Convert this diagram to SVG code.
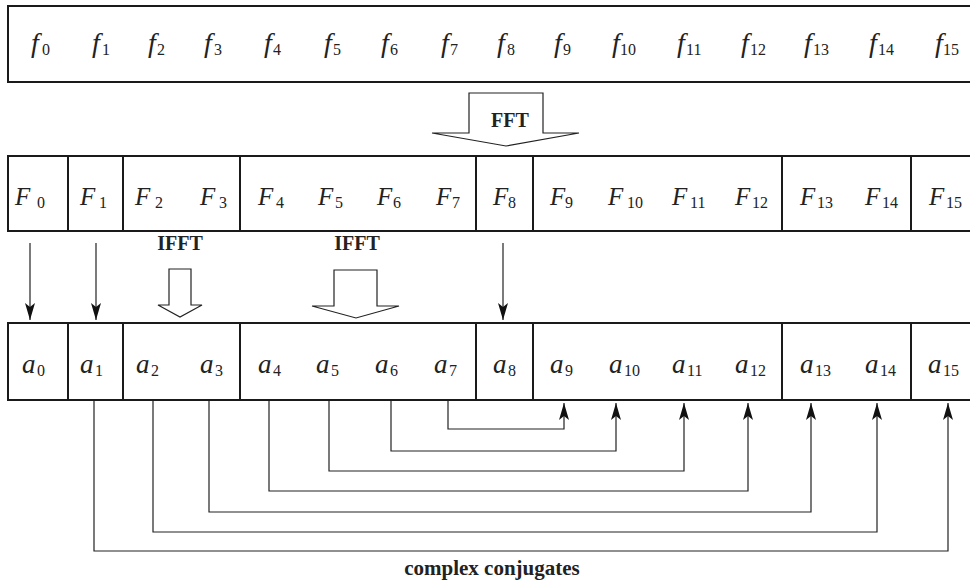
<svg xmlns="http://www.w3.org/2000/svg" width="970" height="585" viewBox="0 0 970 585">
<defs>
<marker id="ah" markerUnits="userSpaceOnUse" markerWidth="20" markerHeight="12" viewBox="-18 -6 20 12" refX="0" refY="0" orient="auto">
<path d="M0,0 L-17,-5 L-13,0 L-17,5 Z" fill="#111"/>
</marker>
</defs>
<style>
.box{fill:none;stroke:#1a1a1a;stroke-width:2}
.div{stroke:#1a1a1a;stroke-width:2}
.lbl{font-family:"Liberation Serif","Times New Roman",serif;fill:#222}
.fl{font-size:28px}
.Fl{font-size:25px}
.al{font-size:27px}
.it{font-style:italic}
.sub{font-size:16px;font-style:normal}
.conn{fill:none;stroke:#222;stroke-width:1.2}
.bar{fill:#fff;stroke:#222;stroke-width:1.2}
.bold{font-family:"Liberation Serif","Times New Roman",serif;font-weight:bold;font-size:20px;fill:#222}
</style>
<rect width="970" height="585" fill="#fff"/>

<g id="row-f">
<rect class="box" x="8" y="6" width="970" height="76"/>
<text class="lbl fl" y="52">
<tspan class="it" x="31">f</tspan><tspan class="sub" x="42" dy="3">0</tspan>
<tspan class="it" x="92" dy="-3">f</tspan><tspan class="sub" x="102" dy="3">1</tspan>
<tspan class="it" x="148" dy="-3">f</tspan><tspan class="sub" x="157" dy="3">2</tspan>
<tspan class="it" x="204" dy="-3">f</tspan><tspan class="sub" x="214" dy="3">3</tspan>
<tspan class="it" x="264" dy="-3">f</tspan><tspan class="sub" x="273" dy="3">4</tspan>
<tspan class="it" x="324" dy="-3">f</tspan><tspan class="sub" x="333" dy="3">5</tspan>
<tspan class="it" x="381" dy="-3">f</tspan><tspan class="sub" x="390" dy="3">6</tspan>
<tspan class="it" x="441" dy="-3">f</tspan><tspan class="sub" x="450" dy="3">7</tspan>
<tspan class="it" x="497" dy="-3">f</tspan><tspan class="sub" x="507" dy="3">8</tspan>
<tspan class="it" x="554" dy="-3">f</tspan><tspan class="sub" x="563" dy="3">9</tspan>
<tspan class="it" x="612" dy="-3">f</tspan><tspan class="sub" x="620" dy="3">10</tspan>
<tspan class="it" x="677" dy="-3">f</tspan><tspan class="sub" x="686" dy="3">11</tspan>
<tspan class="it" x="741" dy="-3">f</tspan><tspan class="sub" x="750" dy="3">12</tspan>
<tspan class="it" x="804" dy="-3">f</tspan><tspan class="sub" x="813" dy="3">13</tspan>
<tspan class="it" x="869" dy="-3">f</tspan><tspan class="sub" x="878" dy="3">14</tspan>
<tspan class="it" x="935" dy="-3">f</tspan><tspan class="sub" x="943" dy="3">15</tspan>
</text>
</g>

<g id="fft">
<path class="bar" d="M469,93 L543,93 L543,133 L579,133 L506,146 L432,133 L469,133 Z"/>
<text class="bold" x="510" y="127" text-anchor="middle">FFT</text>
</g>

<g id="row-F">
<rect class="box" x="8" y="156" width="970" height="75"/>
<line class="div" x1="68" y1="156" x2="68" y2="231"/>
<line class="div" x1="123" y1="156" x2="123" y2="231"/>
<line class="div" x1="240" y1="156" x2="240" y2="231"/>
<line class="div" x1="476" y1="156" x2="476" y2="231"/>
<line class="div" x1="533" y1="156" x2="533" y2="231"/>
<line class="div" x1="782" y1="156" x2="782" y2="231"/>
<line class="div" x1="911" y1="156" x2="911" y2="231"/>
<text class="lbl Fl" y="205">
<tspan class="it" x="15">F</tspan><tspan class="sub" x="37" dy="3">0</tspan>
<tspan class="it" x="80" dy="-3">F</tspan><tspan class="sub" x="99" dy="3">1</tspan>
<tspan class="it" x="135" dy="-3">F</tspan><tspan class="sub" x="155" dy="3">2</tspan>
<tspan class="it" x="200" dy="-3">F</tspan><tspan class="sub" x="219" dy="3">3</tspan>
<tspan class="it" x="258" dy="-3">F</tspan><tspan class="sub" x="276" dy="3">4</tspan>
<tspan class="it" x="318" dy="-3">F</tspan><tspan class="sub" x="335" dy="3">5</tspan>
<tspan class="it" x="377" dy="-3">F</tspan><tspan class="sub" x="393" dy="3">6</tspan>
<tspan class="it" x="436" dy="-3">F</tspan><tspan class="sub" x="452" dy="3">7</tspan>
<tspan class="it" x="493" dy="-3">F</tspan><tspan class="sub" x="508" dy="3">8</tspan>
<tspan class="it" x="550" dy="-3">F</tspan><tspan class="sub" x="565" dy="3">9</tspan>
<tspan class="it" x="608" dy="-3">F</tspan><tspan class="sub" x="627" dy="3">10</tspan>
<tspan class="it" x="672" dy="-3">F</tspan><tspan class="sub" x="690" dy="3">11</tspan>
<tspan class="it" x="735" dy="-3">F</tspan><tspan class="sub" x="752" dy="3">12</tspan>
<tspan class="it" x="800" dy="-3">F</tspan><tspan class="sub" x="817" dy="3">13</tspan>
<tspan class="it" x="865" dy="-3">F</tspan><tspan class="sub" x="882" dy="3">14</tspan>
<tspan class="it" x="929" dy="-3">F</tspan><tspan class="sub" x="946" dy="3">15</tspan>
</text>
</g>

<g id="ifft-1">
<text class="bold" x="180" y="250" text-anchor="middle">IFFT</text>
<path class="bar" d="M169,269 L191,269 L191,305 L202,305 L180,317 L158,305 L169,305 Z"/>
</g>
<g id="ifft-2">
<text class="bold" x="357" y="250" text-anchor="middle">IFFT</text>
<path class="bar" d="M334,270 L377,270 L377,306 L399,306 L356,318 L312,306 L334,306 Z"/>
</g>

<g id="row-a">
<rect class="box" x="8" y="323" width="970" height="77"/>
<line class="div" x1="68" y1="323" x2="68" y2="400"/>
<line class="div" x1="123" y1="323" x2="123" y2="400"/>
<line class="div" x1="240" y1="323" x2="240" y2="400"/>
<line class="div" x1="476" y1="323" x2="476" y2="400"/>
<line class="div" x1="533" y1="323" x2="533" y2="400"/>
<line class="div" x1="782" y1="323" x2="782" y2="400"/>
<line class="div" x1="911" y1="323" x2="911" y2="400"/>
<text class="lbl al" y="373">
<tspan class="it" x="22">a</tspan><tspan class="sub" x="37" dy="3">0</tspan>
<tspan class="it" x="80" dy="-3">a</tspan><tspan class="sub" x="95" dy="3">1</tspan>
<tspan class="it" x="136" dy="-3">a</tspan><tspan class="sub" x="151" dy="3">2</tspan>
<tspan class="it" x="200" dy="-3">a</tspan><tspan class="sub" x="215" dy="3">3</tspan>
<tspan class="it" x="258" dy="-3">a</tspan><tspan class="sub" x="273" dy="3">4</tspan>
<tspan class="it" x="316" dy="-3">a</tspan><tspan class="sub" x="331" dy="3">5</tspan>
<tspan class="it" x="375" dy="-3">a</tspan><tspan class="sub" x="390" dy="3">6</tspan>
<tspan class="it" x="434" dy="-3">a</tspan><tspan class="sub" x="449" dy="3">7</tspan>
<tspan class="it" x="493" dy="-3">a</tspan><tspan class="sub" x="508" dy="3">8</tspan>
<tspan class="it" x="550" dy="-3">a</tspan><tspan class="sub" x="565" dy="3">9</tspan>
<tspan class="it" x="609" dy="-3">a</tspan><tspan class="sub" x="624" dy="3">10</tspan>
<tspan class="it" x="672" dy="-3">a</tspan><tspan class="sub" x="687" dy="3">11</tspan>
<tspan class="it" x="735" dy="-3">a</tspan><tspan class="sub" x="750" dy="3">12</tspan>
<tspan class="it" x="800" dy="-3">a</tspan><tspan class="sub" x="815" dy="3">13</tspan>
<tspan class="it" x="865" dy="-3">a</tspan><tspan class="sub" x="880" dy="3">14</tspan>
<tspan class="it" x="928" dy="-3">a</tspan><tspan class="sub" x="943" dy="3">15</tspan>
</text>
</g>

<g id="connectors">
<line class="conn" x1="30" y1="243" x2="30" y2="320" marker-end="url(#ah)"/>
<line class="conn" x1="96" y1="243" x2="96" y2="320" marker-end="url(#ah)"/>
<line class="conn" x1="503" y1="243" x2="503" y2="320" marker-end="url(#ah)"/>
<polyline class="conn" points="448,401 448,429 564,429 564,403" marker-end="url(#ah)"/>
<polyline class="conn" points="391,401 391,451 616,451 616,403" marker-end="url(#ah)"/>
<polyline class="conn" points="329,401 329,471 684,471 684,403" marker-end="url(#ah)"/>
<polyline class="conn" points="269,401 269,491 748,491 748,403" marker-end="url(#ah)"/>
<polyline class="conn" points="209,401 209,512 811,512 811,403" marker-end="url(#ah)"/>
<polyline class="conn" points="153,401 153,532 877,532 877,403" marker-end="url(#ah)"/>
<polyline class="conn" points="94,401 94,551 948,551 948,403" marker-end="url(#ah)"/>
</g>

<text class="bold" x="492" y="575" font-size="21" style="font-size:21px" text-anchor="middle">complex conjugates</text>
</svg>
